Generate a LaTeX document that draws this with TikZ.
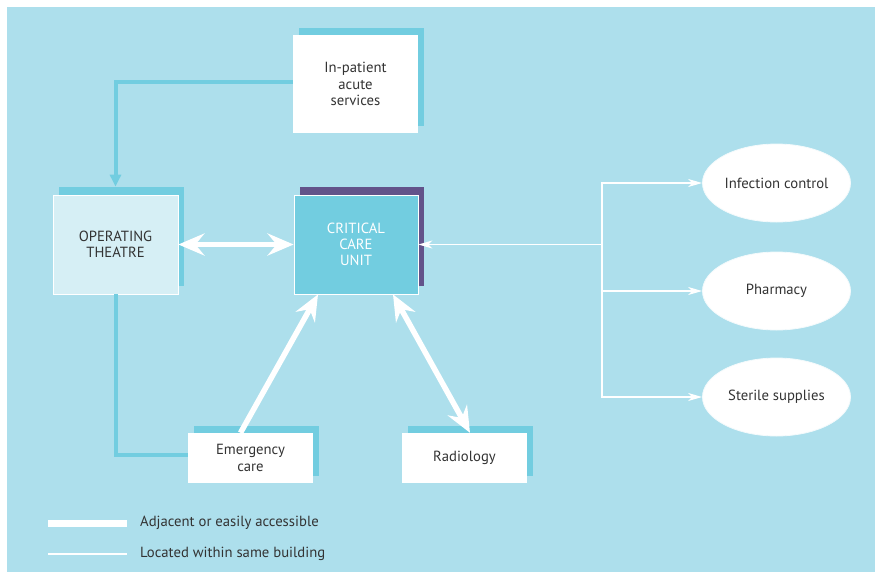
\documentclass[tikz,border=0pt]{standalone}
\usepackage{fontspec}
\setmainfont{PT Sans}
\usetikzlibrary{arrows.meta,shadows,shapes.geometric}
\definecolor{bgblue}{HTML}{ADDFEC}
\definecolor{cyanbox}{HTML}{72CDE0}
\definecolor{purplebox}{HTML}{62538A}
\definecolor{palebox}{HTML}{D6EFF5}
\definecolor{txt}{HTML}{333333}
\tikzset{
  base/.style={font=\fontsize{14.7}{16.3}\selectfont, text=txt, align=center, inner sep=0pt},
  whitebox/.style={base, rectangle, fill=white, minimum width=125pt,
    general shadow={fill=cyanbox, shadow xshift=6pt, shadow yshift=7pt}},
  otbox/.style={base, rectangle, fill=palebox, draw=white, line width=0.8pt, minimum width=125pt, minimum height=99pt,
    general shadow={fill=cyanbox, shadow xshift=6pt, shadow yshift=8pt}},
  ccubox/.style={base, rectangle, fill=cyanbox, draw=white, line width=0.8pt, text=white, minimum width=124pt, minimum height=99pt,
    general shadow={fill=purplebox, shadow xshift=6pt, shadow yshift=8pt}},
  oval/.style={base, ellipse, fill=white, draw=white!85!bgblue, line width=0.8pt, minimum width=148pt, minimum height=78pt},
  thickarrow/.style={draw=white, line width=5.5pt, -{Stealth[length=26pt,width=22pt,inset=9pt]}},
  thickdouble/.style={draw=white, line width=5.5pt, {Stealth[length=26pt,width=22pt,inset=9pt]}-{Stealth[length=26pt,width=22pt,inset=9pt]}},
  thinarrow/.style={draw=white, line width=1.5pt, -{Stealth[length=14pt,width=8pt,inset=4pt]}},
  thinline/.style={draw=white, line width=1.5pt},
  cyanline/.style={draw=cyanbox, line width=4pt},
  cyanarrow/.style={draw=cyanbox, line width=4pt, -{Triangle[length=12pt,width=11pt]}},
  legendtext/.style={base, anchor=west, align=left}
}
\begin{document}
\begin{tikzpicture}[x=1pt,y=-1pt]
\useasboundingbox (0,0) rectangle (875,571);
\fill[bgblue] (7,7) rectangle (876,572);

% boxes
\node[whitebox, minimum height=98pt] (inp) at (355.5,84) {In-patient\\acute\\services};
\node[otbox] (ot) at (115.5,244.5) {OPERATING\\THEATRE};
\node[ccubox] (ccu) at (356,244.5) {CRITICAL\\CARE\\UNIT};
\node[whitebox, minimum height=50pt] (em) at (250.5,458) {Emergency\\care};
\node[whitebox, minimum height=50pt] (rad) at (464.5,458) {Radiology};

\node[oval] (ic) at (776.5,183) {Infection control};
\node[oval] (ph) at (776.5,291) {Pharmacy};
\node[oval] (ss) at (776.5,397) {Sterile supplies};

% cyan connectors
\draw[cyanarrow, shorten >=8pt] ([yshift=2pt]inp.west) -| (ot.north);
\draw[cyanline] (ot.south) |- ([yshift=3pt]em.west);

% thick white connectors
\draw[thickdouble] (ot.east) -- (ccu.west);
\draw[thickarrow] ([xshift=-10pt]em.north) -- ([xshift=-38pt]ccu.south);
\draw[thickdouble] ([xshift=37pt]ccu.south) -- ([xshift=5.5pt]rad.north);

% thin white connectors
\coordinate (br) at (602,244.5);
\draw[thinarrow] (br) -- (ccu.east);
\draw[thinarrow] (br) |- (ic.west);
\draw[thinarrow] (br) |- (ph.west);
\draw[thinarrow] (br) |- (ss.west);

% legend
\coordinate (la1) at (48,523);
\coordinate (la2) at (127,523);
\coordinate (lb1) at (48,554);
\coordinate (lb2) at (127,554);
\draw[draw=white, line width=7pt] (la1) -- (la2);
\draw[thinline] (lb1) -- (lb2);
\node[legendtext] (lt1) at (140,523) {Adjacent or easily accessible};
\node[legendtext] (lt2) at (140,554) {Located within same building};
\end{tikzpicture}
\end{document}
